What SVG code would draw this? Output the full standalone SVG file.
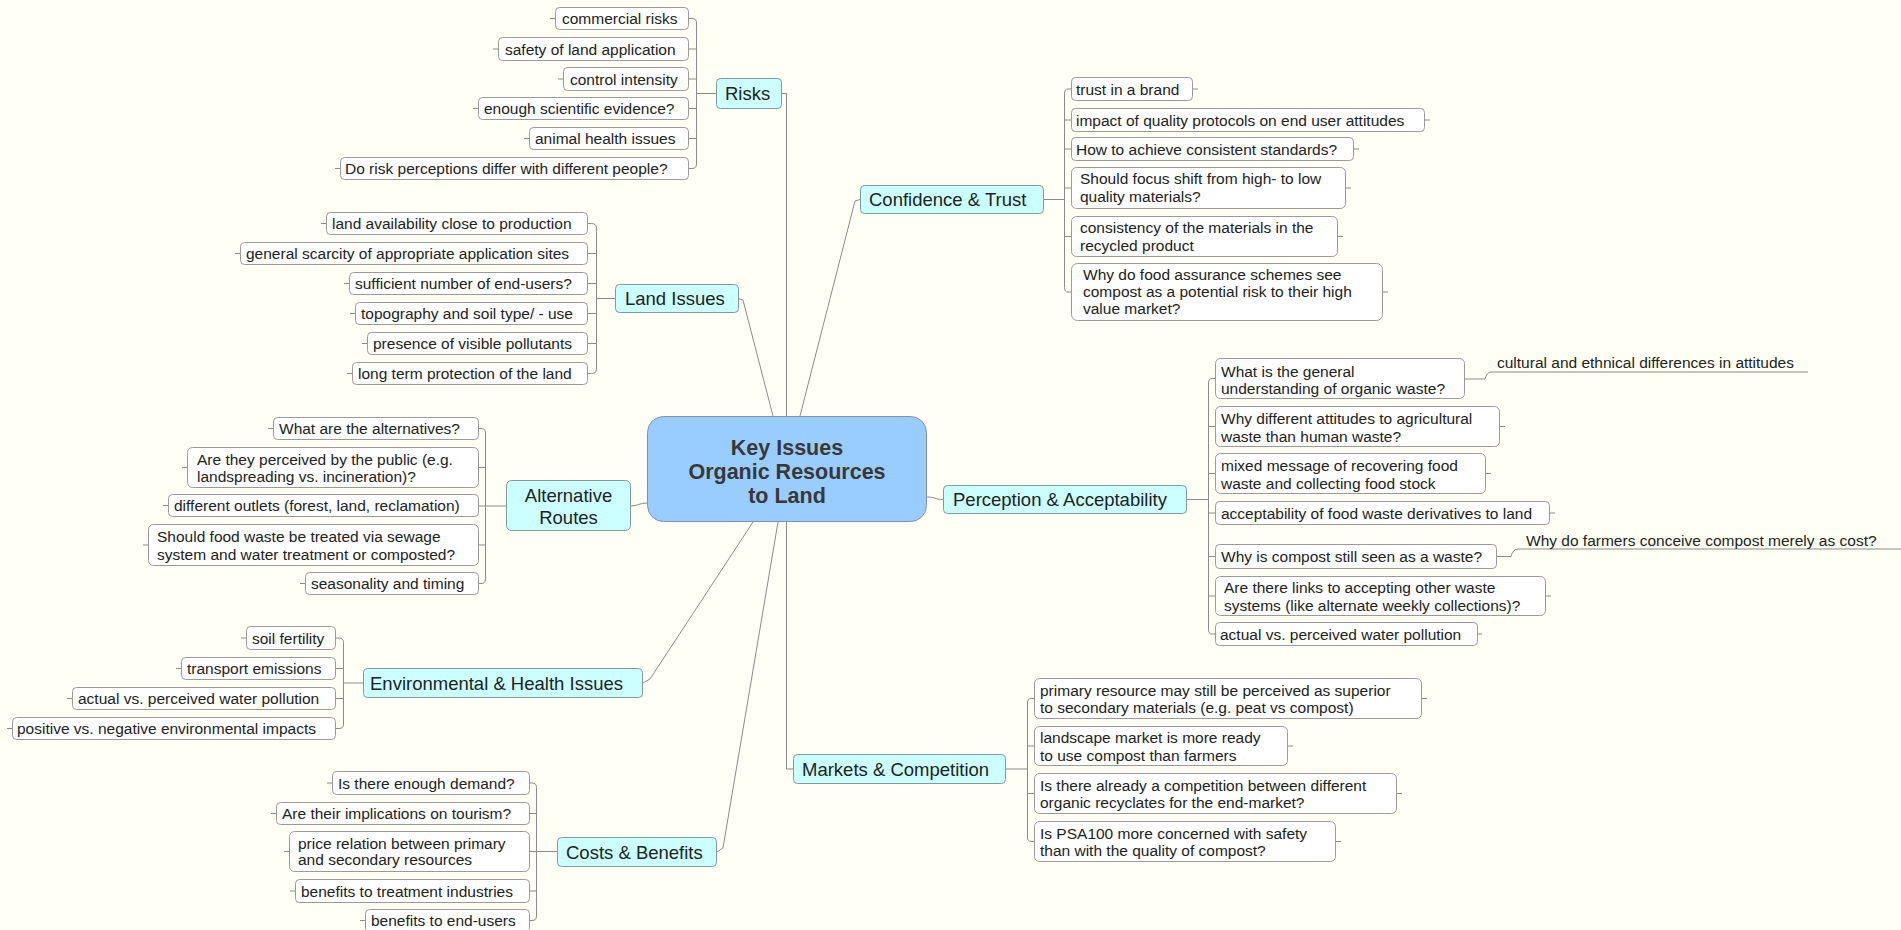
<svg xmlns="http://www.w3.org/2000/svg" width="1901" height="930" viewBox="0 0 1901 930">
<style>
.bg{fill:#fffff6}
.c{fill:#fff;stroke:#9a9a9a;stroke-width:1}
.m{fill:#ccffff;stroke:#7d9c9c;stroke-width:1}
.k{fill:#99ccff;stroke:#7f93aa;stroke-width:1}
.ln{fill:none;stroke:#8a8a8a;stroke-width:1}
text{font-family:"Liberation Sans",Arial,sans-serif;fill:#222}
.t{font-size:15.5px}
.tm{font-size:18.5px}
.tk{font-size:21.5px;font-weight:bold;fill:#383838;text-anchor:middle}
</style>
<rect class="bg" x="0" y="0" width="1901" height="930"/>

<g id="connectors">
  <!-- central to main topics -->
  <path class="ln" d="M782,93.5 H786.5 V416"/>
  <path class="ln" d="M738,298.5 L743,300 L773,416"/>
  <path class="ln" d="M860,199.5 L855,201 L800,416"/>
  <path class="ln" d="M631,506 C637,506 640,503 647,503"/>
  <path class="ln" d="M927,497 C935,497 935,499.5 943,499.5"/>
  <path class="ln" d="M643,683 L650,679 L753,522"/>
  <path class="ln" d="M717,852 L723,848 L778,522"/>
  <path class="ln" d="M786.5,522 V769 H793"/>

  <!-- Risks bracket -->
  <path class="ln" d="M688,18.5 H692 Q696.5,18.5 696.5,23 V164 Q696.5,168.5 692,168.5 H688"/>
  <path class="ln" d="M688,49 H696.5 M688,79 H696.5 M688,108.5 H696.5 M688,138.5 H696.5 M696.5,93.5 H716"/>
  <path class="ln" d="M550,18.5 H555 M493,49 H498 M558,79 H563 M473,108.5 H478 M524,138.5 H529 M335,168.5 H340"/>

  <!-- Land bracket -->
  <path class="ln" d="M587,223.5 H591.5 Q596.5,223.5 596.5,228 V369 Q596.5,373.5 591.5,373.5 H587"/>
  <path class="ln" d="M587,253.5 H596.5 M587,283.5 H596.5 M587,313.5 H596.5 M587,343.5 H596.5 M596.5,298.5 H615"/>
  <path class="ln" d="M321,223.5 H326 M235,253.5 H240 M344,283.5 H349 M350,313.5 H355 M362,343.5 H367 M347,373.5 H352"/>

  <!-- Alternative Routes bracket -->
  <path class="ln" d="M478,428.5 H481 Q485.5,428.5 485.5,433 V579 Q485.5,583.5 481,583.5 H478"/>
  <path class="ln" d="M478,467.5 H485.5 M478,545 H485.5 M478,506 H506"/>
  <path class="ln" d="M268,428.5 H273 M182,467.5 H187 M163,505.5 H168 M143,545 H148 M300,583.5 H305"/>

  <!-- Environmental bracket -->
  <path class="ln" d="M335,638 H339 Q343.5,638 343.5,642.5 V724 Q343.5,728.5 339,728.5 H335"/>
  <path class="ln" d="M335,668.5 H343.5 M335,698.5 H343.5 M343.5,683 H363"/>
  <path class="ln" d="M241,638 H246 M176,668.5 H181 M67,698.5 H72 M7,728.5 H12"/>

  <!-- Costs bracket -->
  <path class="ln" d="M529,783 H532 Q536.5,783 536.5,787.5 V916 Q536.5,920.5 532,920.5 H529"/>
  <path class="ln" d="M529,813.5 H536.5 M529,891 H536.5 M529,851.5 H557"/>
  <path class="ln" d="M327,783 H332 M271,813.5 H276 M284,851.5 H289 M290,891 H295 M360,920.5 H365"/>

  <!-- Confidence bracket -->
  <path class="ln" d="M1071,89 H1068 Q1064.5,89 1064.5,93.5 V287.5 Q1064.5,292 1068,292 H1071"/>
  <path class="ln" d="M1064.5,120 H1071 M1064.5,149 H1071 M1064.5,188 H1071 M1064.5,236.5 H1071 M1044,199.5 H1064.5"/>
  <path class="ln" d="M1193,89 H1198 M1425,120 H1430 M1354,149 H1359 M1346,188 H1351 M1338,236.5 H1343 M1383,292 H1388"/>

  <!-- Perception bracket -->
  <path class="ln" d="M1215,378.5 H1212 Q1208.5,378.5 1208.5,383 V629.5 Q1208.5,634 1212,634 H1215"/>
  <path class="ln" d="M1208.5,426.5 H1215 M1208.5,473.5 H1215 M1208.5,513 H1215 M1208.5,556.5 H1215 M1208.5,596 H1215 M1187,499.5 H1208.5"/>
  <path class="ln" d="M1500,426.5 H1505 M1486,473.5 H1491 M1550,513 H1555 M1546,596 H1551 M1477,634 H1482"/>
  <path class="ln" d="M1465,379 H1485 Q1487,372 1491,372 H1808"/>
  <path class="ln" d="M1497,556.5 H1511 Q1513,549 1518,549 H1901"/>

  <!-- Markets bracket -->
  <path class="ln" d="M1034,698.5 H1031 Q1027.5,698.5 1027.5,703 V837 Q1027.5,841.5 1031,841.5 H1034"/>
  <path class="ln" d="M1027.5,746 H1034 M1027.5,793.5 H1034 M1006,769 H1027.5"/>
  <path class="ln" d="M1422,698.5 H1427 M1288,746 H1293 M1397,793.5 H1402 M1336,841.5 H1341"/>
</g>

<g id="central">
  <rect class="k" x="647.5" y="416.5" width="279" height="105" rx="16"/>
  <text class="tk" x="787" y="455">Key Issues</text>
  <text class="tk" x="787" y="479">Organic Resources</text>
  <text class="tk" x="787" y="503">to Land</text>
</g>

<g id="risks">
  <rect class="m" x="716.5" y="78.5" width="65" height="30" rx="4"/>
  <text class="tm" x="725" y="100">Risks</text>
</g>
<g id="risks-children">
  <rect class="c" x="555.5" y="7.5" width="133" height="22" rx="4"/><text class="t" x="562" y="24">commercial risks</text>
  <rect class="c" x="498.5" y="37.5" width="190" height="23" rx="4"/><text class="t" x="505" y="54.5">safety of land application</text>
  <rect class="c" x="563.5" y="67.5" width="125" height="23" rx="4"/><text class="t" x="570" y="84.5">control intensity</text>
  <rect class="c" x="478.5" y="97.5" width="210" height="22" rx="4"/><text class="t" x="484" y="114">enough scientific evidence?</text>
  <rect class="c" x="529.5" y="127.5" width="159" height="22" rx="4"/><text class="t" x="535" y="144">animal health issues</text>
  <rect class="c" x="340.5" y="157.5" width="348" height="22" rx="4"/><text class="t" x="345" y="174">Do risk perceptions differ with different people?</text>
</g>

<g id="land">
  <rect class="m" x="615.5" y="284.5" width="123" height="28" rx="4"/>
  <text class="tm" x="625" y="305">Land Issues</text>
</g>
<g id="land-children">
  <rect class="c" x="326.5" y="212.5" width="261" height="22" rx="4"/><text class="t" x="332" y="229">land availability close to production</text>
  <rect class="c" x="240.5" y="242.5" width="347" height="22" rx="4"/><text class="t" x="246" y="259">general scarcity of appropriate application sites</text>
  <rect class="c" x="349.5" y="272.5" width="238" height="22" rx="4"/><text class="t" x="355" y="289">sufficient number of end-users?</text>
  <rect class="c" x="355.5" y="302.5" width="232" height="22" rx="4"/><text class="t" x="361" y="319">topography and soil type/ - use</text>
  <rect class="c" x="367.5" y="332.5" width="220" height="22" rx="4"/><text class="t" x="373" y="349">presence of visible pollutants</text>
  <rect class="c" x="352.5" y="362.5" width="235" height="22" rx="4"/><text class="t" x="358" y="379">long term protection of the land</text>
</g>

<g id="alternative">
  <rect class="m" x="506.5" y="480.5" width="124" height="50" rx="5"/>
  <text class="tm" x="568.5" y="501.5" text-anchor="middle">Alternative</text>
  <text class="tm" x="568.5" y="523.5" text-anchor="middle">Routes</text>
</g>
<g id="alternative-children">
  <rect class="c" x="273.5" y="417.5" width="205" height="22" rx="4"/><text class="t" x="279" y="434">What are the alternatives?</text>
  <rect class="c" x="187.5" y="447.5" width="291" height="40" rx="5"/><text class="t" x="197" y="465">Are they perceived by the public (e.g.</text><text class="t" x="197" y="481.5">landspreading vs. incineration)?</text>
  <rect class="c" x="168.5" y="494.5" width="310" height="22" rx="4"/><text class="t" x="174" y="511">different outlets (forest, land, reclamation)</text>
  <rect class="c" x="148.5" y="524.5" width="330" height="41" rx="5"/><text class="t" x="157" y="542">Should food waste be treated via sewage</text><text class="t" x="157" y="559.5">system and water treatment or composted?</text>
  <rect class="c" x="305.5" y="572.5" width="173" height="22" rx="4"/><text class="t" x="311" y="589">seasonality and timing</text>
</g>

<g id="environmental">
  <rect class="m" x="363.5" y="668.5" width="279" height="29" rx="4"/>
  <text class="tm" x="370" y="689.5">Environmental &amp; Health Issues</text>
</g>
<g id="environmental-children">
  <rect class="c" x="246.5" y="626.5" width="89" height="23" rx="4"/><text class="t" x="252" y="643.5">soil fertility</text>
  <rect class="c" x="181.5" y="657.5" width="154" height="22" rx="4"/><text class="t" x="187" y="674">transport emissions</text>
  <rect class="c" x="72.5" y="687.5" width="263" height="22" rx="4"/><text class="t" x="78" y="704">actual vs. perceived water pollution</text>
  <rect class="c" x="12.5" y="717.5" width="323" height="22" rx="4"/><text class="t" x="17" y="734">positive vs. negative environmental impacts</text>
</g>

<g id="costs">
  <rect class="m" x="557.5" y="837.5" width="159" height="29" rx="4"/>
  <text class="tm" x="566" y="858.5">Costs &amp; Benefits</text>
</g>
<g id="costs-children">
  <rect class="c" x="332.5" y="771.5" width="197" height="23" rx="4"/><text class="t" x="338" y="788.5">Is there enough demand?</text>
  <rect class="c" x="276.5" y="802.5" width="253" height="22" rx="4"/><text class="t" x="282" y="819">Are their implications on tourism?</text>
  <rect class="c" x="289.5" y="831.5" width="240" height="40" rx="5"/><text class="t" x="298" y="848.5">price relation between primary</text><text class="t" x="298" y="865">and secondary resources</text>
  <rect class="c" x="295.5" y="879.5" width="234" height="23" rx="4"/><text class="t" x="301" y="896.5">benefits to treatment industries</text>
  <rect class="c" x="365.5" y="909.5" width="164" height="23" rx="4"/><text class="t" x="371" y="926">benefits to end-users</text>
</g>

<g id="confidence">
  <rect class="m" x="860.5" y="185.5" width="183" height="28" rx="4"/>
  <text class="tm" x="869" y="206">Confidence &amp; Trust</text>
</g>
<g id="confidence-children">
  <rect class="c" x="1071.5" y="77.5" width="121" height="23" rx="4"/><text class="t" x="1076" y="94.5">trust in a brand</text>
  <rect class="c" x="1071.5" y="108.5" width="353" height="23" rx="4"/><text class="t" x="1076" y="125.5">impact of quality protocols on end user attitudes</text>
  <rect class="c" x="1071.5" y="137.5" width="282" height="23" rx="4"/><text class="t" x="1076" y="154.5">How to achieve consistent standards?</text>
  <rect class="c" x="1071.5" y="167.5" width="274" height="41" rx="5"/><text class="t" x="1080" y="184">Should focus shift from high- to low</text><text class="t" x="1080" y="202">quality materials?</text>
  <rect class="c" x="1071.5" y="216.5" width="266" height="40" rx="5"/><text class="t" x="1080" y="232.5">consistency of the materials in the</text><text class="t" x="1080" y="250.5">recycled product</text>
  <rect class="c" x="1071.5" y="263.5" width="311" height="57" rx="6"/><text class="t" x="1083" y="280">Why do food assurance schemes see</text><text class="t" x="1083" y="297">compost as a potential risk to their high</text><text class="t" x="1083" y="314">value market?</text>
</g>

<g id="perception">
  <rect class="m" x="943.5" y="485.5" width="243" height="28" rx="4"/>
  <text class="tm" x="953" y="506">Perception &amp; Acceptability</text>
</g>
<g id="perception-children">
  <rect class="c" x="1215.5" y="358.5" width="249" height="40" rx="5"/><text class="t" x="1221" y="376.5">What is the general</text><text class="t" x="1221" y="394">understanding of organic waste?</text>
  <rect class="c" x="1215.5" y="406.5" width="284" height="40" rx="5"/><text class="t" x="1221" y="424">Why different attitudes to agricultural</text><text class="t" x="1221" y="441.5">waste than human waste?</text>
  <rect class="c" x="1215.5" y="453.5" width="270" height="40" rx="5"/><text class="t" x="1221" y="471">mixed message of recovering food</text><text class="t" x="1221" y="488.5">waste and collecting food stock</text>
  <rect class="c" x="1215.5" y="501.5" width="334" height="23" rx="4"/><text class="t" x="1221" y="518.5">acceptability of food waste derivatives to land</text>
  <rect class="c" x="1215.5" y="544.5" width="281" height="24" rx="4"/><text class="t" x="1221" y="562">Why is compost still seen as a waste?</text>
  <rect class="c" x="1215.5" y="576.5" width="330" height="39" rx="5"/><text class="t" x="1224" y="593">Are there links to accepting other waste</text><text class="t" x="1224" y="610.5">systems (like alternate weekly collections)?</text>
  <rect class="c" x="1215.5" y="622.5" width="262" height="23" rx="4"/><text class="t" x="1220" y="639.5">actual vs. perceived water pollution</text>
</g>
<g id="perception-subtopics">
  <text class="t" x="1497" y="368">cultural and ethnical differences in attitudes</text>
  <text class="t" x="1526" y="546">Why do farmers conceive compost merely as cost?</text>
</g>

<g id="markets">
  <rect class="m" x="793.5" y="754.5" width="212" height="29" rx="4"/>
  <text class="tm" x="802" y="775.5">Markets &amp; Competition</text>
</g>
<g id="markets-children">
  <rect class="c" x="1034.5" y="678.5" width="387" height="40" rx="5"/><text class="t" x="1040" y="695.5">primary resource may still be perceived as superior</text><text class="t" x="1040" y="713">to secondary materials (e.g. peat vs compost)</text>
  <rect class="c" x="1034.5" y="726.5" width="253" height="39" rx="5"/><text class="t" x="1040" y="743">landscape market is more ready</text><text class="t" x="1040" y="760.5">to use compost than farmers</text>
  <rect class="c" x="1034.5" y="773.5" width="362" height="40" rx="5"/><text class="t" x="1040" y="790.5">Is there already a competition between different</text><text class="t" x="1040" y="808">organic recyclates for the end-market?</text>
  <rect class="c" x="1034.5" y="821.5" width="301" height="40" rx="5"/><text class="t" x="1040" y="838.5">Is PSA100 more concerned with safety</text><text class="t" x="1040" y="856">than with the quality of compost?</text>
</g>
</svg>
